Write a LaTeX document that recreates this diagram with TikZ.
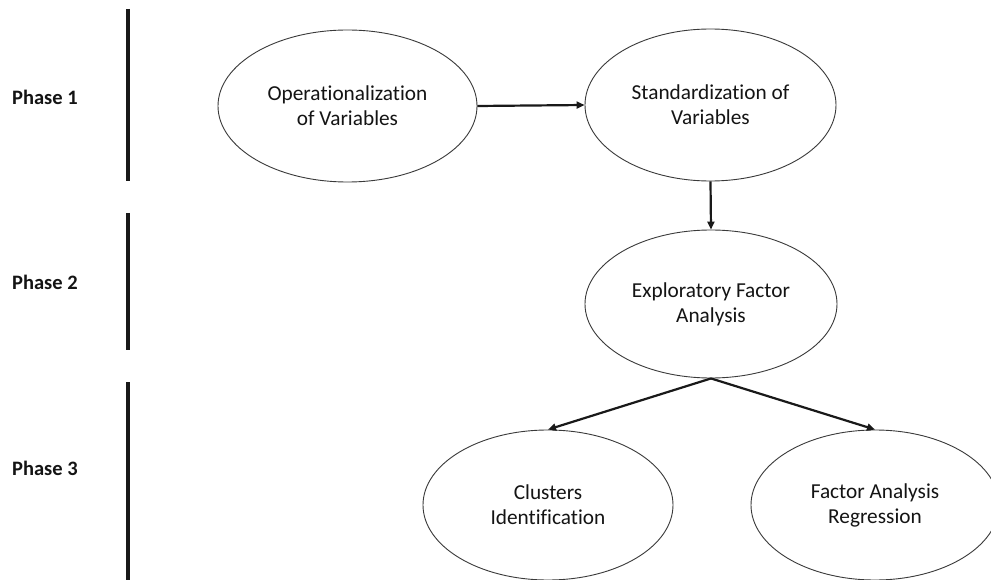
\documentclass[tikz,border=0pt]{standalone}
\usepackage{fontspec}
\setmainfont[Ligatures=NoCommon]{Carlito}
\usetikzlibrary{shapes.geometric,arrows.meta}
\definecolor{ink}{HTML}{141414}
\definecolor{edge}{HTML}{3A3A3A}
\tikzset{
  oval/.style={ellipse, draw=edge, line width=0.9pt, inner sep=0pt, align=center,
    text=ink, font=\fontsize{21.3}{25}\selectfont},
  phaselabel/.style={anchor=west, inner sep=0pt, text=ink, font=\fontsize{20.5}{24}\selectfont\bfseries},
  phasebar/.style={line width=4.2pt, draw=black!90},
  arr/.style={line width=2.2pt, draw=black!90, -{Triangle[length=8pt,width=7pt]}}
}
\begin{document}
\begin{tikzpicture}[x=1pt,y=-1pt]
\useasboundingbox (0,0) rectangle (991,580);
\fill[white] (0,0) rectangle (991,580);
\begin{scope}
\clip (0,0) rectangle (991,580);
% phase labels and bars
\node[phaselabel] (p1) at (12,97) {Phase 1};
\node[phaselabel] (p2) at (12,282) {Phase 2};
\node[phaselabel] (p3) at (12,468) {Phase 3};
\draw[phasebar] (128,9) -- (128,181);
\draw[phasebar] (128,213) -- (128,350);
\draw[phasebar] (128,382) -- (128,580);
% ellipses
\node[oval, minimum width=259pt, minimum height=152pt] (op) at (347.5,106) {Operationalization\\of Variables};
\node[oval, minimum width=251pt, minimum height=152pt] (st) at (710.5,105) {Standardization of\\Variables};
\node[oval, minimum width=252pt, minimum height=148pt] (efa) at (711,304) {Exploratory Factor\\Analysis};
\node[oval, minimum width=250pt, minimum height=150pt] (cl) at (548,505) {Clusters\\Identification};
\node[oval, minimum width=248pt, minimum height=150pt] (far) at (875,505) {Factor Analysis\\Regression};
% connectors
\draw[arr] (op.east) -- (st.west);
\draw[arr] (st.south) -- (efa.north);
\draw[arr] (efa.south) -- (cl.north);
\draw[arr] (efa.south) -- (far.north);
\end{scope}
\end{tikzpicture}
\end{document}
